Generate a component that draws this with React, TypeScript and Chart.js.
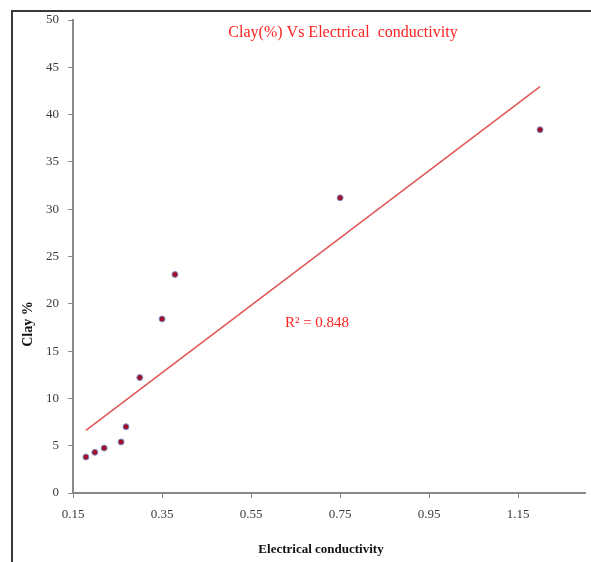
import React, { useEffect, useRef } from "react";
import Chart from "chart.js/auto";

const conductivity = [0.179, 0.199, 0.22, 0.258, 0.269, 0.3, 0.35, 0.379, 0.75, 1.199];
const clayPercent = [3.8, 4.3, 4.75, 5.4, 7.0, 12.2, 18.4, 23.1, 31.2, 38.4];
const xTickValues = [0.15, 0.35, 0.55, 0.75, 0.95, 1.15];
const yTickValues = [0, 5, 10, 15, 20, 25, 30, 35, 40, 45, 50];
const chartTitle = "Clay(%) Vs Electrical  conductivity";
const r2Label = "R² = 0.848";
const xAxisTitle = "Electrical conductivity";
const yAxisTitle = "Clay %";

function regression(xs: number[], ys: number[]) {
  const n = xs.length;
  const mx = xs.reduce((a, b) => a + b, 0) / n;
  const my = ys.reduce((a, b) => a + b, 0) / n;
  let sxy = 0, sxx = 0;
  for (let i = 0; i < n; i++) {
    sxy += (xs[i] - mx) * (ys[i] - my);
    sxx += (xs[i] - mx) * (xs[i] - mx);
  }
  const slope = sxy / sxx;
  return { slope, intercept: my - slope * mx };
}

export default function App() {
  const ref = useRef<HTMLCanvasElement | null>(null);
  useEffect(() => {
    if (!ref.current) return;
    const { slope, intercept } = regression(conductivity, clayPercent);
    const xMin = Math.min(...conductivity);
    const xMax = Math.max(...conductivity);
    const trend = [
      { x: xMin, y: intercept + slope * xMin },
      { x: xMax, y: intercept + slope * xMax },
    ];
    const points = conductivity.map((x, i) => ({ x, y: clayPercent[i] }));

    const decor = {
      id: "decor",
      afterDraw(chart: any) {
        const ctx = chart.ctx;
        ctx.save();
        // frame
        ctx.strokeStyle = "#3a3a3a";
        ctx.lineWidth = 2;
        ctx.beginPath();
        ctx.moveTo(12, 562);
        ctx.lineTo(12, 11);
        ctx.lineTo(591, 11);
        ctx.stroke();
        // title
        ctx.fillStyle = "#ff2020";
        ctx.font = "16px 'Liberation Serif'";
        ctx.textAlign = "center";
        ctx.textBaseline = "middle";
        ctx.fillText(chartTitle, 343, 33);
        // R2
        ctx.font = "15px 'Liberation Serif'";
        ctx.fillText(r2Label, 317, 323);
        // x title
        ctx.fillStyle = "#111";
        ctx.font = "bold 13px 'Liberation Serif'";
        ctx.fillText(xAxisTitle, 321, 550);
        // y title
        ctx.translate(28, 324);
        ctx.rotate(-Math.PI / 2);
        ctx.font = "bold 14px 'Liberation Serif'";
        ctx.fillText(yAxisTitle, 0, 0);
        ctx.restore();
      },
    };

    const chart = new Chart(ref.current, {
      type: "scatter",
      data: {
        datasets: [
          {
            label: "Clay",
            data: points,
            backgroundColor: "#a0102a",
            borderColor: "#7f93c4",
            borderWidth: 1,
            pointRadius: 3,
            order: 1,
          },
          {
            label: "Trend",
            type: "line",
            data: trend,
            borderColor: "#e05555",
            borderWidth: 1.5,
            pointRadius: 0,
            fill: false,
            order: 2,
          } as any,
        ],
      },
      options: {
        responsive: false,
        animation: false,
        layout: { padding: { top: 20, right: 6, left: 0, bottom: 0 } },
        plugins: {
          legend: { display: false },
          title: { display: false },
          tooltip: { enabled: false },
        },
        scales: {
          x: {
            type: "linear",
            min: 0.15,
            max: 1.3,
            afterFit: (s: any) => { s.height = 69; },
            afterBuildTicks: (s: any) => { s.ticks = xTickValues.map((v) => ({ value: v })); },
            ticks: {
              color: "#3a3a3a",
              font: { family: "'Liberation Serif'", size: 13 },
              padding: 9,
              callback: (v: any) => Number(v).toFixed(2),
            },
            grid: { drawOnChartArea: false, drawTicks: true, tickLength: 5, color: "#8a8a8a" },
            border: { color: "#8a8a8a", width: 2 },
          },
          y: {
            type: "linear",
            min: 0,
            max: 50,
            afterFit: (s: any) => { s.width = 73; },
            afterBuildTicks: (s: any) => { s.ticks = yTickValues.map((v) => ({ value: v })); },
            ticks: {
              color: "#3a3a3a",
              font: { family: "'Liberation Serif'", size: 13 },
              padding: 9,
            },
            grid: { drawOnChartArea: false, drawTicks: true, tickLength: 5, color: "#8a8a8a" },
            border: { color: "#8a8a8a", width: 2 },
          },
        },
      },
      plugins: [decor],
    });
    return () => chart.destroy();
  }, []);
  return (
    <div style={{ position: "absolute", left: 0, top: 0, width: 591, height: 562, background: "#fff" }}>
      <canvas ref={ref} width={591} height={562} style={{ display: "block" }} />
    </div>
  );
}
